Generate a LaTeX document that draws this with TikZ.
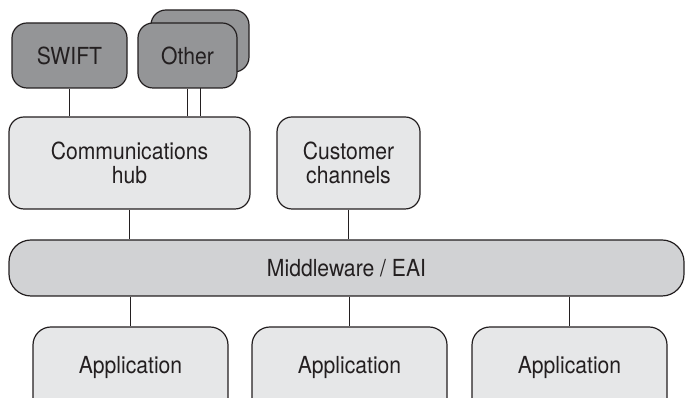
\documentclass[tikz,border=0pt]{standalone}
\usepackage{fontspec}
\setmainfont[FakeStretch=0.9]{TeX Gyre Heros}
\usepackage{tikz}
\usetikzlibrary{positioning}
\definecolor{darkbox}{RGB}{148,149,151}
\definecolor{midbox}{RGB}{209,210,212}
\definecolor{lightbox}{RGB}{230,231,232}
\definecolor{ink}{RGB}{35,31,32}

\begin{document}
\begin{tikzpicture}[x=1pt,y=1pt,
box/.style={draw=ink, line width=1.2pt, rounded corners=15pt, text=ink, align=center,
  font=\fontsize{23.5}{24.5}\selectfont, inner sep=0pt},
darkbox/.style={box, fill=darkbox},
lightbox/.style={box, fill=lightbox},
midbox/.style={box, fill=midbox, rounded corners=22pt},
appbox/.style={lightbox, rounded corners=18pt, text height=10pt, text depth=27pt},
link/.style={draw=ink, line width=1pt},
]
\clip (0,0) rectangle (686,398);

\node[darkbox, minimum width=98pt, minimum height=62pt] (otherback) at (200,357) {};
\node[lightbox, minimum width=241pt, minimum height=92pt] (hub) at (129.5,235) {Communications\\hub};
\path[link] (otherback.south) -- (otherback.south |- hub.north);
\node[darkbox, minimum width=115pt, minimum height=65pt] (swift) at (69.5,342.5) {SWIFT};
\node[darkbox, minimum width=99pt, minimum height=65pt] (other) at (187.5,342.5) {Other};
\node[lightbox, minimum width=143pt, minimum height=92pt] (cust) at (348.5,235) {Customer\\channels};
\node[midbox, minimum width=675pt, minimum height=56pt] (mw) at (346.5,130) {Middleware / EAI};
\node[appbox, minimum width=195pt, minimum height=110pt] (app1) at (130.5,16) {Application};
\node[appbox, minimum width=195pt, minimum height=110pt] (app2) at (349.5,16) {Application};
\node[appbox, minimum width=195pt, minimum height=110pt] (app3) at (569.5,16) {Application};

\path[link]
(swift) edge (swift |- hub.north)
(other) edge (other |- hub.north)
(hub) edge (hub |- mw.north)
(cust) edge (cust |- mw.north)
(mw.south -| app1) edge (app1)
(mw.south -| app2) edge (app2)
(mw.south -| app3) edge (app3)
;
\end{tikzpicture}
\end{document}
